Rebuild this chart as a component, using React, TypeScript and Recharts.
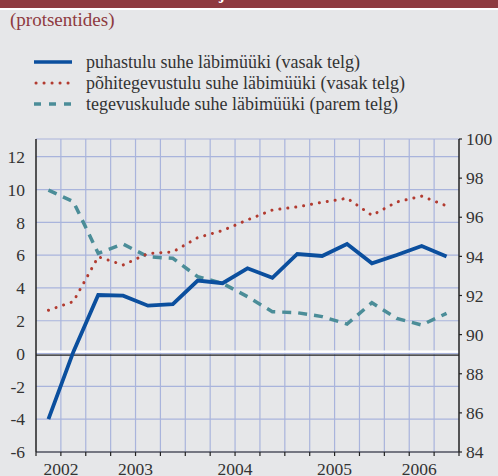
import React from 'react';
import {
  LineChart,
  Line,
  XAxis,
  YAxis,
  CartesianGrid,
  ReferenceLine,
} from 'recharts';

// quarterly, 2002 Q2 .. 2006 Q2
const puhastulu = [-4.0, 0.1, 3.57, 3.53, 2.92, 3.02, 4.45, 4.29, 5.2, 4.62, 6.07, 5.95, 6.68, 5.5, 6.01, 6.56, 5.91];
const pohitegevustulu = [2.64, 3.17, 5.9, 5.4, 6.1, 6.2, 7.07, 7.5, 8.15, 8.75, 8.94, 9.22, 9.47, 8.43, 9.24, 9.6, 9.0];
const tegevuskulud = [97.39, 96.8, 94.16, 94.63, 93.98, 93.9, 92.96, 92.62, 91.94, 91.17, 91.12, 90.92, 90.54, 91.63, 90.83, 90.49, 91.09];

const leftTicks = [-6, -4, -2, 0, 2, 4, 6, 8, 10, 12];
const rightTicks = [84, 86, 88, 90, 92, 94, 96, 98, 100];
const yearLabels: Record<string, string> = { '1': '2002', '4': '2003', '8': '2004', '12': '2005', '15.4': '2006' };

const seriesNames = [
  'puhastulu suhe läbimüüki (vasak telg)',
  'põhitegevustulu suhe läbimüüki (vasak telg)',
  'tegevuskulude suhe läbimüüki (parem telg)',
];

const data = puhastulu.map((v, i) => ({
  x: i + 0.5,
  puhastulu: v,
  pohitegevustulu: pohitegevustulu[i],
  tegevuskulud: tegevuskulud[i],
}));

const quarterBounds = Array.from({ length: 18 }, (_, i) => i);
const xTicks = [...quarterBounds, 15.4].sort((a, b) => a - b);

const BLUE = '#0b4f9e';
const RED = '#b23b30';
const TEAL = '#4b8d98';
const GRID = '#a9b4dc';
const BG = '#e6e7e9';
const TXT = '#333333';
const FONT = "'Liberation Serif', 'DejaVu Serif', serif";

const XTick = ({ x, y, payload }: any) => {
  const v = payload.value;
  const label = yearLabels[String(v)];
  return (
    <g>
      {Number.isInteger(v) && <line x1={x} x2={x} y1={y} y2={y + 4} stroke="#222" strokeWidth={1.2} />}
      {label && (
        <text x={x} y={y + 23} textAnchor="middle" fill={TXT} style={{ fontSize: 17.5, fontFamily: FONT }}>
          {label}
        </text>
      )}
    </g>
  );
};

const LegendRow = ({ kind, label, top }: { kind: number; label: string; top: number }) => (
  <div style={{ position: 'absolute', left: 34, top, height: 20, display: 'flex', alignItems: 'center' }}>
    <svg width={40} height={8}>
      {kind === 0 && <line x1={0} x2={38} y1={4} y2={4} stroke={BLUE} strokeWidth={3.5} />}
      {kind === 1 && (
        <line x1={2} x2={38} y1={4} y2={4} stroke={RED} strokeWidth={3} strokeLinecap="round" strokeDasharray="0.1 7.9" />
      )}
      {kind === 2 && <line x1={0} x2={38} y1={4} y2={4} stroke={TEAL} strokeWidth={3.5} strokeDasharray="7 8" />}
    </svg>
    <span style={{ marginLeft: 12, fontSize: 18, fontFamily: FONT, color: TXT, whiteSpace: 'nowrap' }}>{label}</span>
  </div>
);

const tickStyle = { fill: TXT, fontSize: 17.5, fontFamily: FONT };

export default function App() {
  return (
    <div style={{ position: 'relative', width: 498, height: 476, background: BG, overflow: 'hidden', fontFamily: FONT }}>
      <style>{'body{margin:0}'}</style>
      <div style={{ position: 'absolute', left: 0, top: 0, width: 498, height: 7.5, background: '#8e3a40', overflow: 'hidden' }}>
        <div style={{ position: 'absolute', left: 0, top: -16, color: '#fff', fontWeight: 700, fontSize: 17, whiteSpace: 'nowrap' }}>
          Ettevõtete kasumlikkuse näitajad
        </div>
      </div>
      <div style={{ position: 'absolute', left: 0, top: 8, width: 498, height: 1.5, background: '#ffffff' }} />
      <div style={{ position: 'absolute', left: 10, top: 9, fontSize: 19, color: '#8e3a40' }}>(protsentides)</div>
      {seriesNames.map((s, i) => (
        <LegendRow key={s} kind={i} label={s} top={52 + i * 21} />
      ))}
      <div style={{ position: 'absolute', left: 0, top: 0 }}>
        <LineChart
          width={498}
          height={476}
          data={data}
          margin={{ top: 139, right: 0, left: 0, bottom: 0 }}
          style={{ fontFamily: FONT }}
        >
          <CartesianGrid yAxisId="left" vertical={false} stroke={GRID} strokeWidth={1.2} horizontalValues={leftTicks} />
          {quarterBounds.slice(1, 17).map((q) => (
            <ReferenceLine key={q} yAxisId="left" x={q} stroke={GRID} strokeWidth={1.2} />
          ))}
          <ReferenceLine yAxisId="left" y={13.08} stroke={GRID} strokeWidth={1.2} />
          <ReferenceLine yAxisId="left" y={0.12} stroke="#ffffff" strokeWidth={2.2} />
          <ReferenceLine yAxisId="left" y={-0.1} stroke="#222" strokeWidth={1.2} />
          <XAxis
            dataKey="x"
            type="number"
            domain={[0, 17]}
            ticks={xTicks}
            interval={0}
            height={24}
            tickSize={0}
            tickMargin={0}
            axisLine={{ stroke: '#222', strokeWidth: 1.2 }}
            tick={<XTick />}
          />
          <YAxis
            yAxisId="left"
            domain={[-6, 13.08]}
            ticks={leftTicks}
            width={36}
            tickLine={false}
            tickSize={6}
            tickMargin={5}
            axisLine={{ stroke: '#222', strokeWidth: 1.5 }}
            tick={tickStyle}
            allowDataOverflow
          />
          <YAxis
            yAxisId="right"
            orientation="right"
            domain={[84, 100]}
            ticks={rightTicks}
            width={39}
            tickSize={3}
            tickMargin={4}
            tickLine={{ stroke: '#222', strokeWidth: 1.2 }}
            axisLine={{ stroke: '#222', strokeWidth: 1.5 }}
            tick={tickStyle}
            allowDataOverflow
          />
          <Line
            yAxisId="right"
            type="linear"
            dataKey="tegevuskulud"
            stroke={TEAL}
            strokeWidth={3.5}
            strokeDasharray="9 7"
            dot={false}
            isAnimationActive={false}
          />
          <Line
            yAxisId="left"
            type="linear"
            dataKey="pohitegevustulu"
            stroke={RED}
            strokeWidth={3}
            strokeLinecap="round"
            strokeDasharray="0.1 7.9"
            dot={false}
            isAnimationActive={false}
          />
          <Line
            yAxisId="left"
            type="linear"
            dataKey="puhastulu"
            stroke={BLUE}
            strokeWidth={3.8}
            dot={false}
            isAnimationActive={false}
          />
        </LineChart>
      </div>
    </div>
  );
}
